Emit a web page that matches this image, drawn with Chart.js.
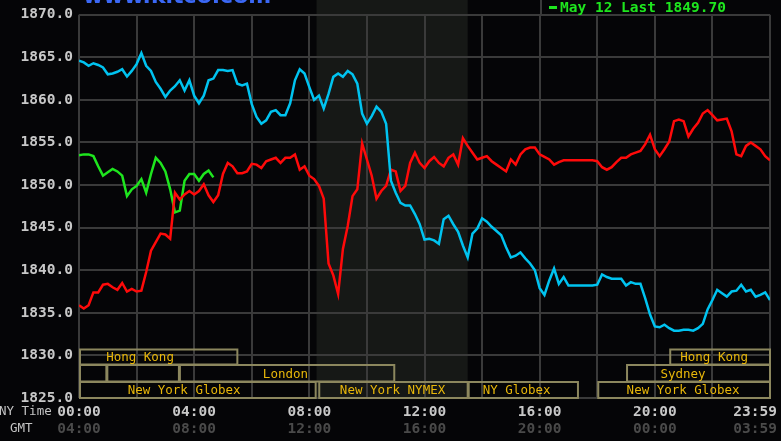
<!DOCTYPE html>
<html>
<head>
<meta charset="utf-8">
<script src="https://cdn.jsdelivr.net/npm/chart.js@4.4.1/dist/chart.umd.min.js"></script>
<style>
  html, body { margin: 0; padding: 0; background: #050507; overflow: hidden; }
  #wrap { width: 781px; height: 441px; }
</style>
</head>
<body>
<div id="wrap"><canvas id="chart" width="781" height="441"></canvas></div>
<script>
// samples every 10 minutes, NY time 00:00 -> 24:00
const stepMinutes = 10;

// previous day (cyan)
const cyanValues = [
  1864.6, 1864.4, 1864.0, 1864.3, 1864.1, 1863.8, 1863.0, 1863.1, 1863.3, 1863.6, 1862.75, 1863.4,
  1864.2, 1865.5, 1864.0, 1863.4, 1862.1, 1861.3, 1860.35, 1861.1, 1861.6, 1862.3, 1861.1, 1862.3,
  1860.5, 1859.6, 1860.5, 1862.3, 1862.5, 1863.5, 1863.5, 1863.4, 1863.5, 1861.9, 1861.7, 1861.9,
  1859.5, 1858.0, 1857.2, 1857.6, 1858.6, 1858.8, 1858.2, 1858.2, 1859.6, 1862.3, 1863.6, 1863.1,
  1861.5, 1860.0, 1860.5, 1859.0, 1860.7, 1862.7, 1863.1, 1862.7, 1863.4, 1863.0, 1861.9, 1858.4,
  1857.2, 1858.1, 1859.2, 1858.6, 1857.2, 1850.5, 1849.1, 1847.9, 1847.6, 1847.6, 1846.6, 1845.4,
  1843.6, 1843.7, 1843.5, 1843.1, 1846.0, 1846.4, 1845.4, 1844.5, 1842.9, 1841.5, 1844.3, 1844.9,
  1846.1, 1845.7, 1845.1, 1844.6, 1844.1, 1842.7, 1841.5, 1841.7, 1842.1, 1841.4, 1840.8, 1840.0,
  1837.9, 1837.1, 1838.8, 1840.2, 1838.4, 1839.2, 1838.2, 1838.2, 1838.2, 1838.2, 1838.2, 1838.2,
  1838.3, 1839.5, 1839.2, 1839.0, 1839.0, 1839.0, 1838.2, 1838.6, 1838.4, 1838.4, 1836.7, 1834.8,
  1833.4, 1833.3, 1833.6, 1833.2, 1832.9, 1832.9, 1833.0, 1833.0, 1832.9, 1833.2, 1833.7, 1835.4,
  1836.5, 1837.7, 1837.3, 1836.9, 1837.5, 1837.6, 1838.3, 1837.5, 1837.7, 1836.9, 1837.1, 1837.4,
  1836.5
];

// current day (red)
const redValues = [
  1835.9, 1835.5, 1835.9, 1837.4, 1837.4, 1838.3, 1838.4, 1838.0, 1837.7, 1838.5, 1837.5, 1837.8,
  1837.5, 1837.6, 1839.8, 1842.3, 1843.3, 1844.3, 1844.2, 1843.7, 1849.1, 1848.3, 1848.9, 1849.3,
  1848.9, 1849.3, 1850.1, 1848.8, 1848.0, 1848.8, 1851.3, 1852.6, 1852.2, 1851.4, 1851.4, 1851.6,
  1852.5, 1852.4, 1852.0, 1852.8, 1853.0, 1853.2, 1852.6, 1853.2, 1853.2, 1853.6, 1851.8, 1852.2,
  1851.1, 1850.7, 1849.9, 1848.4, 1840.8, 1839.4, 1837.2, 1842.5, 1845.2, 1848.7, 1849.5, 1854.9,
  1853.0, 1851.1, 1848.4, 1849.3, 1849.9, 1851.8, 1851.6, 1849.3, 1849.9, 1852.6, 1853.8, 1852.6,
  1852.0, 1852.8, 1853.3, 1852.6, 1852.2, 1853.2, 1853.6, 1852.4, 1855.5, 1854.6, 1853.8, 1853.0,
  1853.2, 1853.4, 1852.8, 1852.4, 1852.0, 1851.6, 1853.0, 1852.4, 1853.6, 1854.2, 1854.4, 1854.4,
  1853.6, 1853.3, 1853.0, 1852.4, 1852.7, 1852.9, 1852.9, 1852.9, 1852.9, 1852.9, 1852.9, 1852.9,
  1852.8, 1852.1, 1851.8, 1852.1, 1852.7, 1853.2, 1853.2, 1853.6, 1853.8, 1854.0, 1854.8, 1855.9,
  1854.2, 1853.4, 1854.2, 1855.1, 1857.5, 1857.7, 1857.5, 1855.7, 1856.6, 1857.3, 1858.4, 1858.8,
  1858.2, 1857.6, 1857.7, 1857.8, 1856.3, 1853.6, 1853.4, 1854.6, 1855.0, 1854.6, 1854.2, 1853.4,
  1852.9
];

// partial series (green), 00:00 -> 04:40
const greenValues = [
  1853.5, 1853.6, 1853.6, 1853.4, 1852.2, 1851.1, 1851.5, 1851.9, 1851.6, 1851.1, 1848.7, 1849.5,
  1849.9, 1850.7, 1849.1, 1851.3, 1853.2, 1852.6, 1851.6, 1849.5, 1846.8, 1847.0, 1850.5, 1851.3,
  1851.3, 1850.5, 1851.3, 1851.7, 1850.9
];

const nyTimeLabels = ["00:00", "04:00", "08:00", "12:00", "16:00", "20:00", "23:59"];
const gmtLabels = ["04:00", "08:00", "12:00", "16:00", "20:00", "00:00", "03:59"];
const labelHours = [0, 4, 8, 12, 16, 20, 24];

const legendText = "May 12 Last 1849.70";

// market sessions: [label, row, start hour, end hour, label centre hour]
const sessions = [
  ["Hong Kong", 0, 0, 5.5, 2.12],
  ["Hong Kong", 0, 20.5, 24, 22.06],
  ["", 1, 0, 0.95, 0],
  ["", 1, 0.95, 3.47, 0],
  ["London", 1, 3.47, 10.95, 7.17],
  ["Sydney", 1, 19.0, 24, 20.98],
  ["New York Globex", 2, 0, 8.22, 3.65],
  ["New York NYMEX", 2, 8.31, 13.5, 10.89],
  ["NY Globex", 2, 13.5, 17.33, 15.2],
  ["New York Globex", 2, 18.0, 24, 20.98]
];
const nymexBand = [8.25, 13.5];

function toPoints(values) {
  return values.map(function (v, i) {
    return { x: i * stepMinutes / 60, y: v };
  });
}

const monoFont = '"DejaVu Sans Mono", "Liberation Mono", monospace';

const kitcoPlugin = {
  id: "kitco",
  beforeDraw: function (chart) {
    const ctx = chart.ctx, x = chart.scales.x, y = chart.scales.y;
    ctx.save();
    ctx.fillStyle = "#050507";
    ctx.fillRect(0, 0, chart.width, chart.height);
    // shaded NYMEX hours
    const bx0 = x.getPixelForValue(nymexBand[0]);
    const bx1 = x.getPixelForValue(nymexBand[1]);
    ctx.fillStyle = "#161816";
    ctx.fillRect(bx0, 0, bx1 - bx0, y.bottom);
    ctx.restore();
  },
  afterDraw: function (chart) {
    const ctx = chart.ctx, x = chart.scales.x, y = chart.scales.y;
    ctx.save();

    // session boxes
    const rowTop = [y.bottom - 48.5, y.bottom - 33, y.bottom - 16];
    const rowBottom = [y.bottom - 33.5, y.bottom - 16.5, y.bottom];
    ctx.lineWidth = 2;
    ctx.strokeStyle = "#8c875e";
    ctx.font = '12.5px ' + monoFont;
    ctx.textAlign = "center";
    ctx.textBaseline = "middle";
    sessions.forEach(function (s) {
      const x0 = x.getPixelForValue(s[2]);
      const x1 = x.getPixelForValue(s[3]);
      const t = rowTop[s[1]], b = rowBottom[s[1]];
      ctx.strokeRect(x0 + 1, t, x1 - x0 - 1, b - t);
      if (s[0]) {
        ctx.fillStyle = "#e8b70a";
        ctx.fillText(s[0], x.getPixelForValue(s[4]), (t + b) / 2 + 1);
      }
    });

    // time labels, two rows
    ctx.font = 'bold 14.5px ' + monoFont;
    labelHours.forEach(function (h, i) {
      let px = x.getPixelForValue(h);
      const w = ctx.measureText(nyTimeLabels[i]).width;
      px = Math.min(px, chart.width - 4 - w / 2);
      ctx.fillStyle = "#c8c8c8";
      ctx.fillText(nyTimeLabels[i], px, 412);
      ctx.fillStyle = "#4a4a4a";
      ctx.fillText(gmtLabels[i], px, 429);
    });
    ctx.font = '12.5px ' + monoFont;
    ctx.textAlign = "left";
    ctx.fillStyle = "#c4c4c4";
    ctx.fillText("NY Time", -1, 412);
    ctx.fillText("GMT", 10, 429);

    // legend box top right
    const lx = 541;
    ctx.fillStyle = "#050507";
    ctx.fillRect(lx, 0, x.right - lx, 15);
    ctx.strokeStyle = "#3a3a3a";
    ctx.lineWidth = 2;
    ctx.beginPath();
    ctx.moveTo(lx, 0);
    ctx.lineTo(lx, 15);
    ctx.lineTo(x.right, 15);
    ctx.stroke();
    ctx.fillStyle = "#1ee61e";
    ctx.fillRect(549, 6, 8, 3);
    ctx.font = 'bold 14.5px ' + monoFont;
    ctx.textBaseline = "middle";
    ctx.fillText(legendText, 560, 8);

    // site name, cut at the top edge
    ctx.fillStyle = "#3b68f5";
    ctx.font = 'bold 22px "DejaVu Sans", sans-serif';
    ctx.textBaseline = "alphabetic";
    ctx.fillText("www.kitco.com", 83, 3);

    ctx.restore();
  }
};

const ctx = document.getElementById("chart").getContext("2d");
new Chart(ctx, {
  type: "line",
  data: {
    datasets: [
      { label: "Previous", data: toPoints(cyanValues), borderColor: "#00c3f0", borderWidth: 2.5 },
      { label: "Today", data: toPoints(redValues), borderColor: "#ff0a0a", borderWidth: 2.5 },
      { label: "May 12", data: toPoints(greenValues), borderColor: "#1ee61e", borderWidth: 2.5 }
    ]
  },
  options: {
    responsive: false,
    animation: false,
    parsing: false,
    layout: { padding: { top: 10, right: 11, left: 0, bottom: 0 } },
    elements: { point: { radius: 0 }, line: { tension: 0 } },
    plugins: { legend: { display: false }, tooltip: { enabled: false } },
    scales: {
      x: {
        type: "linear",
        min: 0,
        max: 24,
        ticks: { display: false, stepSize: 2 },
        grid: { color: "#3a3a3a", lineWidth: 2, drawTicks: false },
        border: { display: false },
        afterFit: function (scale) { scale.height = 43; }
      },
      y: {
        min: 1825,
        max: 1870,
        ticks: {
          stepSize: 5,
          padding: 6,
          color: "#c8c8c8",
          font: { family: monoFont, size: 14.5, weight: "bold" },
          callback: function (v) { return v.toFixed(1); }
        },
        grid: { color: "#3a3a3a", lineWidth: 2, drawTicks: false },
        border: { display: false },
        afterFit: function (scale) { scale.width = 79; }
      }
    }
  },
  plugins: [kitcoPlugin]
});
</script>
</body>
</html>
